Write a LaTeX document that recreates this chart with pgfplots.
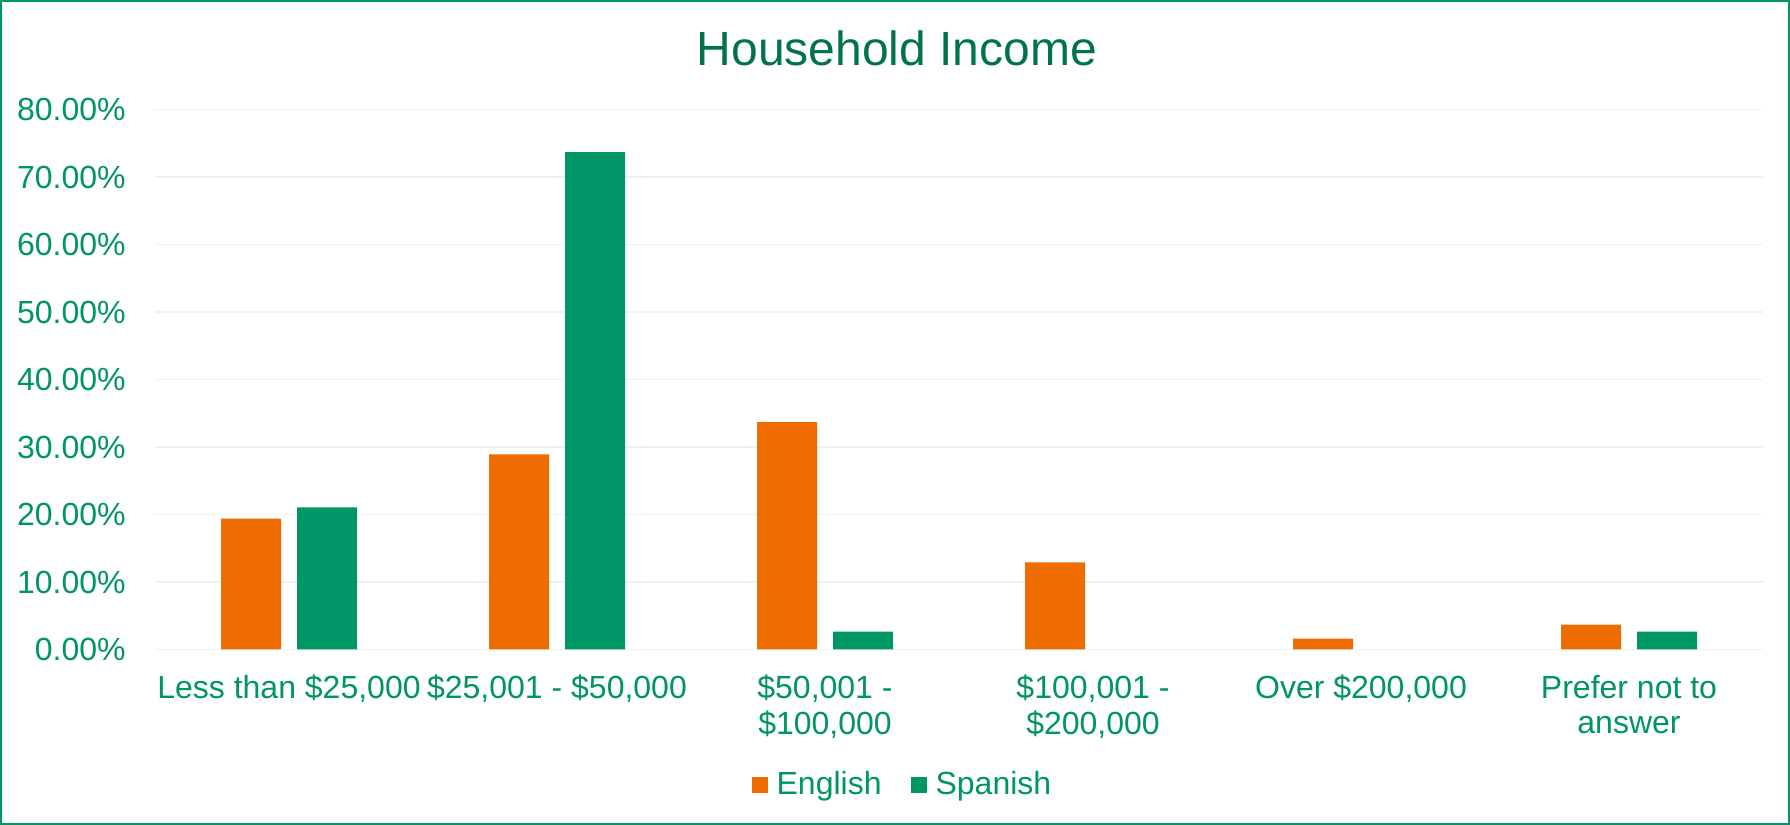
\documentclass[border=0pt]{standalone}
\usepackage{fontspec}
\setmainfont{Liberation Sans}
\usepackage{pgfplots}
\pgfplotsset{compat=1.18}
\definecolor{engorange}{HTML}{EE6C00}
\definecolor{spagreen}{HTML}{009668}
\definecolor{txtgreen}{HTML}{009466}
\definecolor{titlegreen}{HTML}{00734D}
\definecolor{gridmint}{HTML}{E6F5EF}

\pgfplotsset{
  sqlegend/.style={legend image code/.code={\fill[##1] (0pt,-4pt) rectangle (8pt,4pt);}},
}

\begin{document}
\begin{tikzpicture}
  \useasboundingbox (0,0) rectangle (895pt,412.5pt);
  \draw[spagreen, line width=1.2pt] (0.6pt,0.6pt) rectangle (894.4pt,411.9pt);
  \node[anchor=base, text=titlegreen, font=\fontsize{24pt}{28pt}\selectfont]
    at (448.5pt,379.6pt) {Household Income};
  \begin{axis}[
    at={(77.5pt,87.75pt)}, anchor=south west,
    scale only axis, width=804pt, height=270pt,
    ybar=8pt, bar width=30pt,
    xmin=-0.5, xmax=5.5, ymin=0, ymax=80,
    xtick={0,...,5},
    xticklabels={{Less than \$25,000}, {\$25,001 - \$50,000}, {\$50,001 -\\\$100,000},
      {\$100,001 -\\\$200,000}, {Over \$200,000}, {Prefer not to\\answer}},
    ytick={0,10,...,80},
    yticklabel={\pgfmathprintnumber[assume math mode=true,fixed,fixed zerofill,precision=2]{\tick}\%},
    ymajorgrids, grid style={gridmint, line width=0.6pt},
    axis line style={draw=none},
    major tick length=0pt,
    tick label style={text=txtgreen, font=\fontsize{16pt}{17.7pt}\selectfont, inner sep=0pt},
    x tick label style={align=center, anchor=north, yshift=-12.6pt},
    y tick label style={anchor=east, xshift=-14.5pt},
    legend columns=2,
    legend style={at={(0.4642,-0.2504)}, anchor=center, draw=none, fill=none,
      inner sep=0pt, text=txtgreen, font=\fontsize{16pt}{17.7pt}\selectfont,
      nodes={inner sep=0pt},
      /tikz/every odd column/.append style={column sep=4.5pt},
      /tikz/every even column/.append style={column sep=14.5pt}},
  ]
    % English
    \addplot[fill=engorange, draw=none, sqlegend] coordinates {
      (0,19.4) (1,28.9) (2,33.7) (3,12.9) (4,1.6) (5,3.7)
    };
    % Spanish
    \addplot[fill=spagreen, draw=none, sqlegend] coordinates {
      (0,21.05) (1,73.68) (2,2.63) (5,2.63)
    };
    \legend{English, Spanish}
  \end{axis}
\end{tikzpicture}
\end{document}
